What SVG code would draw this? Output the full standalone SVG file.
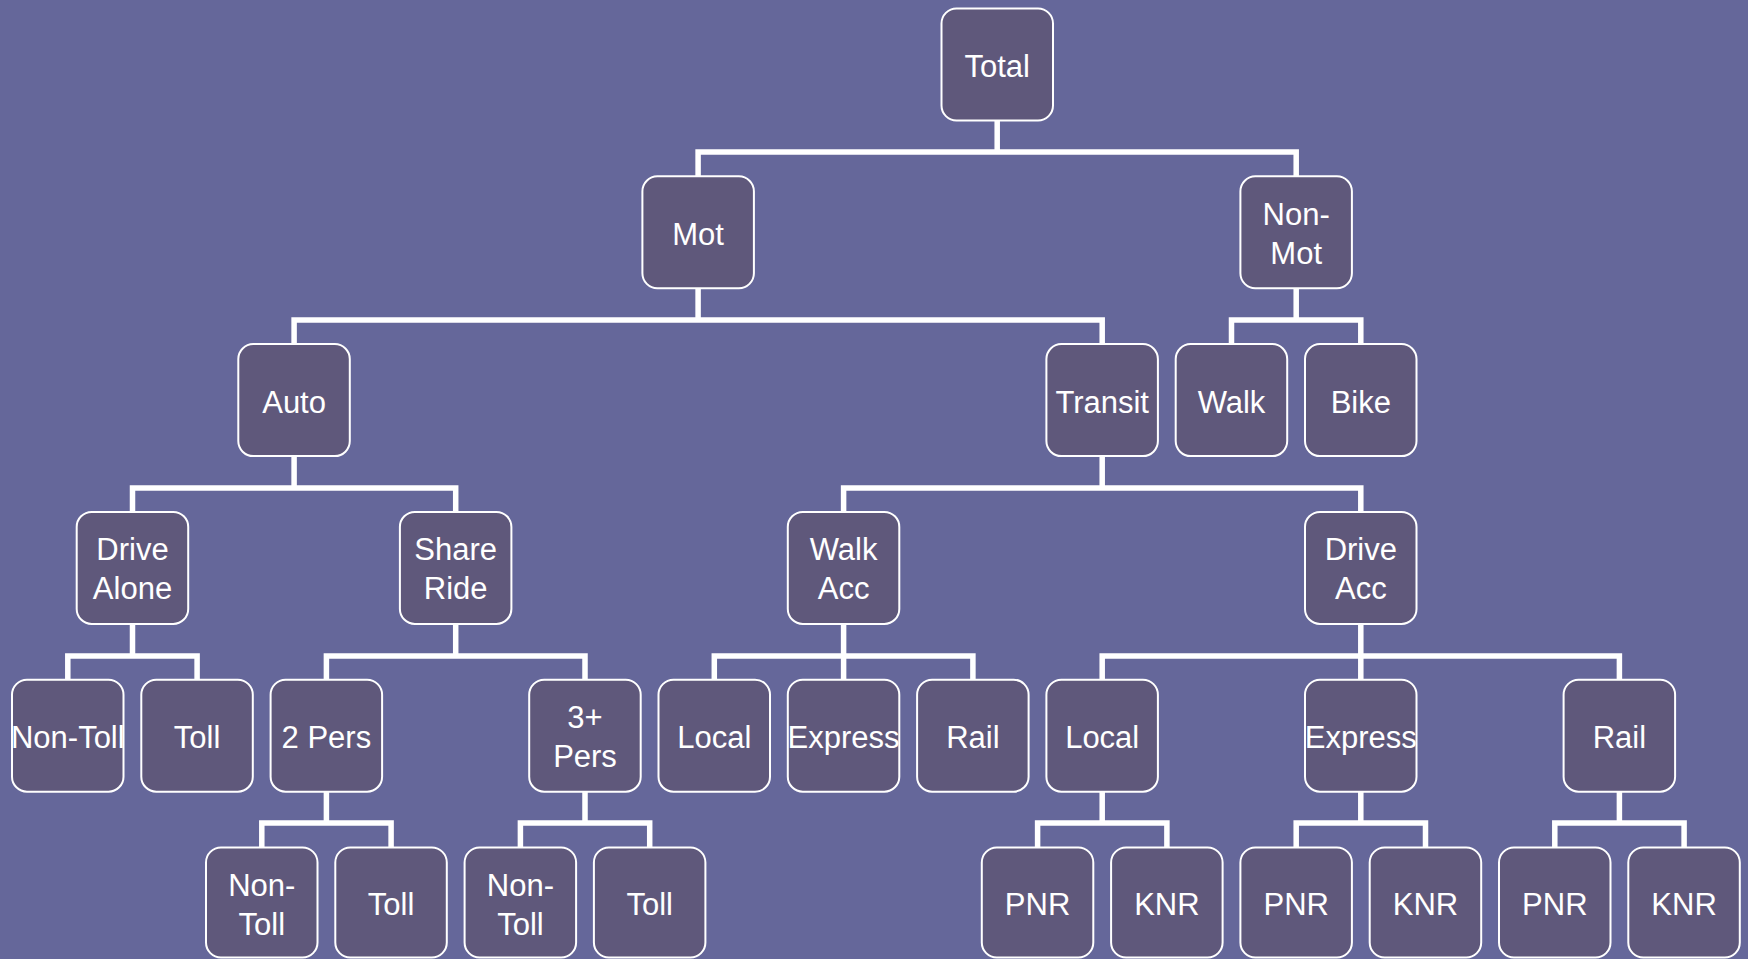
<svg xmlns="http://www.w3.org/2000/svg" width="1748" height="959" viewBox="0 0 1748 959">
<style>
.bg{fill:#65679A}
.n rect{fill:#5F587B;stroke:#FFFFFF;stroke-width:2}
.n text{fill:#FFFFFF;font-family:"Liberation Sans",Arial,sans-serif;font-size:31px;text-anchor:middle}
.c path{fill:none;stroke:#FFFFFF;stroke-width:5.5;stroke-linecap:square}
</style>
<rect class="bg" x="0" y="0" width="1748" height="959"/>
<g id="connectors" class="c">
<path d="M997.2,120 V152 M698.1,152 H1296.2 M698.1,152 V176 M1296.2,152 V176"/>
<path d="M698.1,288 V320 M294.1,320 H1102.2 M294.1,320 V344 M1102.2,320 V344"/>
<path d="M1296.2,288 V320 M1231.5,320 H1360.8 M1231.5,320 V344 M1360.8,320 V344"/>
<path d="M294.1,456 V488 M132.5,488 H455.7 M132.5,488 V512 M455.7,488 V512"/>
<path d="M1102.2,456 V488 M843.6,488 H1360.8 M843.6,488 V512 M1360.8,488 V512"/>
<path d="M132.5,624 V656 M67.8,656 H197.1 M67.8,656 V680 M197.1,656 V680"/>
<path d="M455.7,624 V656 M326.4,656 H585 M326.4,656 V680 M585,656 V680"/>
<path d="M843.6,624 V680 M714.3,656 H972.9 M714.3,656 V680 M972.9,656 V680"/>
<path d="M1360.8,624 V680 M1102.2,656 H1619.4 M1102.2,656 V680 M1619.4,656 V680"/>
<path d="M326.4,792 V823 M261.8,823 H391.1 M261.8,823 V848 M391.1,823 V848"/>
<path d="M585,792 V823 M520.4,823 H649.7 M520.4,823 V848 M649.7,823 V848"/>
<path d="M1102.2,792 V823 M1037.6,823 H1166.9 M1037.6,823 V848 M1166.9,823 V848"/>
<path d="M1360.8,792 V823 M1296.2,823 H1425.5 M1296.2,823 V848 M1425.5,823 V848"/>
<path d="M1619.4,792 V823 M1554.8,823 H1684.1 M1554.8,823 V848 M1684.1,823 V848"/>
</g>
<g id="total" class="n"><rect x="941.5" y="8.5" width="111.5" height="112" rx="15"/><text x="997.2" y="77">Total</text></g>
<g id="mot" class="n"><rect x="642.4" y="176.3" width="111.5" height="112" rx="15"/><text x="698.1" y="245">Mot</text></g>
<g id="nonmot" class="n"><rect x="1240.4" y="176.3" width="111.5" height="112" rx="15"/><text x="1296.2" y="224.5">Non-</text><text x="1296.2" y="263.5">Mot</text></g>
<g id="auto" class="n"><rect x="238.3" y="344.1" width="111.5" height="112" rx="15"/><text x="294.1" y="412.8">Auto</text></g>
<g id="transit" class="n"><rect x="1046.4" y="344.1" width="111.5" height="112" rx="15"/><text x="1102.2" y="412.8">Transit</text></g>
<g id="walk" class="n"><rect x="1175.7" y="344.1" width="111.5" height="112" rx="15"/><text x="1231.5" y="412.8">Walk</text></g>
<g id="bike" class="n"><rect x="1305" y="344.1" width="111.5" height="112" rx="15"/><text x="1360.8" y="412.8">Bike</text></g>
<g id="drivealone" class="n"><rect x="76.7" y="511.9" width="111.5" height="112" rx="15"/><text x="132.5" y="560">Drive</text><text x="132.5" y="599">Alone</text></g>
<g id="shareride" class="n"><rect x="399.9" y="511.9" width="111.5" height="112" rx="15"/><text x="455.7" y="560">Share</text><text x="455.7" y="599">Ride</text></g>
<g id="walkacc" class="n"><rect x="787.8" y="511.9" width="111.5" height="112" rx="15"/><text x="843.6" y="560">Walk</text><text x="843.6" y="599">Acc</text></g>
<g id="driveacc" class="n"><rect x="1305" y="511.9" width="111.5" height="112" rx="15"/><text x="1360.8" y="560">Drive</text><text x="1360.8" y="599">Acc</text></g>
<g id="da-nontoll" class="n"><rect x="12" y="679.7" width="111.5" height="112" rx="15"/><text x="67.8" y="748.4">Non-Toll</text></g>
<g id="da-toll" class="n"><rect x="141.3" y="679.7" width="111.5" height="112" rx="15"/><text x="197.1" y="748.4">Toll</text></g>
<g id="pers2" class="n"><rect x="270.6" y="679.7" width="111.5" height="112" rx="15"/><text x="326.4" y="748.4">2 Pers</text></g>
<g id="pers3" class="n"><rect x="529.2" y="679.7" width="111.5" height="112" rx="15"/><text x="585" y="727.8">3+</text><text x="585" y="766.8">Pers</text></g>
<g id="wa-local" class="n"><rect x="658.5" y="679.7" width="111.5" height="112" rx="15"/><text x="714.3" y="748.4">Local</text></g>
<g id="wa-express" class="n"><rect x="787.8" y="679.7" width="111.5" height="112" rx="15"/><text x="843.6" y="748.4">Express</text></g>
<g id="wa-rail" class="n"><rect x="917.1" y="679.7" width="111.5" height="112" rx="15"/><text x="972.9" y="748.4">Rail</text></g>
<g id="dr-local" class="n"><rect x="1046.4" y="679.7" width="111.5" height="112" rx="15"/><text x="1102.2" y="748.4">Local</text></g>
<g id="dr-express" class="n"><rect x="1305" y="679.7" width="111.5" height="112" rx="15"/><text x="1360.8" y="748.4">Express</text></g>
<g id="dr-rail" class="n"><rect x="1563.6" y="679.7" width="111.5" height="112" rx="15"/><text x="1619.4" y="748.4">Rail</text></g>
<g id="p2-nontoll" class="n"><rect x="206" y="847.5" width="111.5" height="110" rx="15"/><text x="261.8" y="895.6">Non-</text><text x="261.8" y="934.6">Toll</text></g>
<g id="p2-toll" class="n"><rect x="335.3" y="847.5" width="111.5" height="110" rx="15"/><text x="391.1" y="915.2">Toll</text></g>
<g id="p3-nontoll" class="n"><rect x="464.6" y="847.5" width="111.5" height="110" rx="15"/><text x="520.4" y="895.6">Non-</text><text x="520.4" y="934.6">Toll</text></g>
<g id="p3-toll" class="n"><rect x="593.9" y="847.5" width="111.5" height="110" rx="15"/><text x="649.7" y="915.2">Toll</text></g>
<g id="lo-pnr" class="n"><rect x="981.8" y="847.5" width="111.5" height="110" rx="15"/><text x="1037.6" y="915.2">PNR</text></g>
<g id="lo-knr" class="n"><rect x="1111.1" y="847.5" width="111.5" height="110" rx="15"/><text x="1166.9" y="915.2">KNR</text></g>
<g id="ex-pnr" class="n"><rect x="1240.4" y="847.5" width="111.5" height="110" rx="15"/><text x="1296.2" y="915.2">PNR</text></g>
<g id="ex-knr" class="n"><rect x="1369.7" y="847.5" width="111.5" height="110" rx="15"/><text x="1425.5" y="915.2">KNR</text></g>
<g id="ra-pnr" class="n"><rect x="1499" y="847.5" width="111.5" height="110" rx="15"/><text x="1554.8" y="915.2">PNR</text></g>
<g id="ra-knr" class="n"><rect x="1628.3" y="847.5" width="111.5" height="110" rx="15"/><text x="1684.1" y="915.2">KNR</text></g>
</svg>
